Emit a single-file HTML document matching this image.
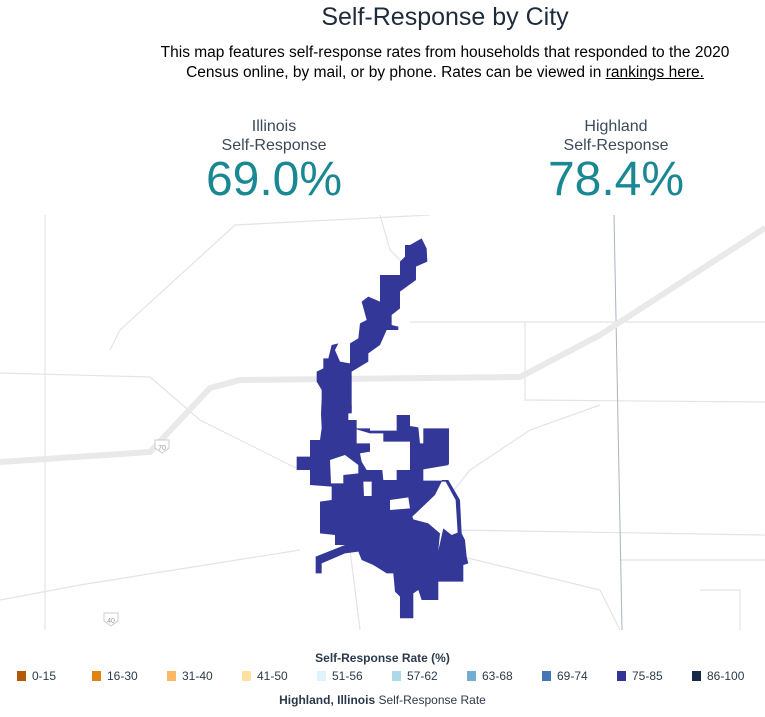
<!DOCTYPE html>
<html><head><meta charset="utf-8"><style>
body{margin:0;width:765px;height:717px;background:#fff;font-family:"Liberation Sans",Arial,sans-serif;position:relative;overflow:hidden;color:#1d2b3a}
.t{position:absolute;text-align:center}
</style></head><body>
<div class="t" style="left:130px;width:630px;top:3px;font-size:25px;color:#1d2b3a">Self-Response by City</div>
<div class="t" style="left:130px;width:630px;top:43px;font-size:15.5px;line-height:20px;color:#000">This map features self-response rates from households that responded to the 2020<br>Census online, by mail, or by phone. Rates can be viewed in <u>rankings here.</u></div>
<div class="t" style="left:174px;width:200px;top:117px;font-size:16px;line-height:19px;color:#3b4a5a">Illinois<br>Self-Response</div>
<div class="t" style="left:174px;width:200px;top:152px;font-size:48px;color:#1a8893">69.0%</div>
<div class="t" style="left:516px;width:200px;top:117px;font-size:16px;line-height:19px;color:#3b4a5a">Highland<br>Self-Response</div>
<div class="t" style="left:516px;width:200px;top:152px;font-size:48px;color:#1a8893">78.4%</div>
<svg style="position:absolute;left:0;top:215px" width="765" height="415" viewBox="0 215 765 415">
<g fill="none" stroke="#e4e4e6" stroke-width="1.2">
<path d="M45 215 L45 630"/><path d="M0 373 L150 377 L200 420 L300 470"/><path d="M110 350 L120 330 L235 225 L430 215"/>
<path d="M410 322 L765 322"/><path d="M525 322 L525 400 L765 402"/><path d="M380 215 L390 250 L410 270"/>
<path d="M0 600 L80 585 L300 550"/><path d="M455 530 L765 535"/><path d="M455 555 L600 590 L620 630"/>
<path d="M700 590 L740 590 L740 630"/><path d="M350 550 L360 630"/><path d="M620 560 L765 560"/>
<path d="M430 520 L470 470 L530 430 L600 405"/>
</g>
<path d="M614 215 L622 630" stroke="#aab4c0" stroke-width="1" fill="none"/>
<path d="M0 462 L150 452 L210 388 L240 380 L520 377 L600 335 L765 228" stroke="#e9e9ea" stroke-width="6" fill="none"/>
<g fill="#fff" stroke="#ccc" stroke-width="1"><path d="M155 440 h14 v8 l-7 5 l-7 -5z"/><path d="M104 613 h14 v8 l-7 5 l-7 -5z"/></g>
<text x="162" y="450" font-size="7" fill="#999" text-anchor="middle">70</text>
<text x="111" y="623" font-size="7" fill="#999" text-anchor="middle">40</text>
<g transform="translate(290,230) scale(0.3333)">
<path fill="#333797" d="M395 25 L410 55 L412 95 L378 110 L378 150 L330 185 L330 235 L305 255 L305 285 L325 290 L325 300 L290 300 L270 345 L235 370 L235 395 L185 425 L185 550 L95 550 L95 480 L80 455 L80 425 L100 415 L100 385 L115 385 L125 345 L145 340 L135 360 L150 395 L180 400 L180 340 L205 325 L210 280 L230 270 L215 215 L235 200 L270 215 L270 135 L330 135 L330 95 L345 80 L345 45 L360 45 Z"/>
</g>
<g transform="translate(295,400) scale(0.3333)">
<path fill="#333797" d="M80 0 L150 0 L150 15 L170 15 L170 35 L160 40 L160 60 L185 60 L185 85 L225 85 L225 92 L305 92 L305 45 L345 45 L345 78 L370 82 L375 130 L385 130 L385 85 L462 85 L462 190 L440 240 L460 240 L495 300 L500 400 L510 420 L515 470 L520 490 L505 495 L505 545 L430 545 L430 600 L380 600 L370 570 L355 580 L355 655 L315 655 L315 590 L300 575 L295 520 L275 520 L235 495 L200 480 L190 455 L150 460 L80 490 L80 520 L62 520 L62 470 L150 435 L120 435 L120 405 L75 400 L75 305 L110 300 L110 260 L45 255 L45 210 L5 210 L5 170 L45 170 L45 120 L75 120 L80 85 L78 40 Z"/>
<g fill="#fff">
<path d="M185 88 L225 100 L265 100 L265 125 L345 125 L345 210 L305 210 L305 240 L265 240 L262 210 L215 210 L200 185 L195 160 L225 155 L225 130 L185 130 Z"/>
<path d="M105 180 L150 165 L190 195 L190 220 L145 225 L145 250 L108 250 Z"/>
<path d="M205 245 L230 245 L230 288 L207 288 Z"/>
<path d="M285 300 L340 292 L345 325 L285 330 Z"/>
<path d="M352 350 L420 285 L440 245 L452 245 L482 300 L488 398 L470 405 L445 385 L430 452 L435 400 L400 370 L355 358 Z"/>
<path d="M385 208 L462 195 L440 242 L385 242 Z"/>
</g></g>
</svg>
<div class="t" style="left:0;width:765px;top:651px;font-size:12px;font-weight:bold;color:#2b3a4a">Self-Response Rate (%)</div>
<div style="position:absolute;left:0;top:669px;width:765px;font-size:12px;color:#2b3a4a">
<span style="position:absolute;left:17px"><i style="display:inline-block;width:9px;height:10px;background:#b35806;vertical-align:-1px;margin-right:6px"></i>0-15</span>
<span style="position:absolute;left:92px"><i style="display:inline-block;width:9px;height:10px;background:#e08214;vertical-align:-1px;margin-right:6px"></i>16-30</span>
<span style="position:absolute;left:167px"><i style="display:inline-block;width:9px;height:10px;background:#fdb863;vertical-align:-1px;margin-right:6px"></i>31-40</span>
<span style="position:absolute;left:242px"><i style="display:inline-block;width:9px;height:10px;background:#fee0a0;vertical-align:-1px;margin-right:6px"></i>41-50</span>
<span style="position:absolute;left:317px"><i style="display:inline-block;width:9px;height:10px;background:#e0f3f8;vertical-align:-1px;margin-right:6px"></i>51-56</span>
<span style="position:absolute;left:392px"><i style="display:inline-block;width:9px;height:10px;background:#abd9e9;vertical-align:-1px;margin-right:6px"></i>57-62</span>
<span style="position:absolute;left:467px"><i style="display:inline-block;width:9px;height:10px;background:#74add1;vertical-align:-1px;margin-right:6px"></i>63-68</span>
<span style="position:absolute;left:542px"><i style="display:inline-block;width:9px;height:10px;background:#4575b4;vertical-align:-1px;margin-right:6px"></i>69-74</span>
<span style="position:absolute;left:617px"><i style="display:inline-block;width:9px;height:10px;background:#313695;vertical-align:-1px;margin-right:6px"></i>75-85</span>
<span style="position:absolute;left:692px"><i style="display:inline-block;width:9px;height:10px;background:#152a4a;vertical-align:-1px;margin-right:6px"></i>86-100</span>
</div>
<div class="t" style="left:0;width:765px;top:693px;font-size:12px;color:#2b3a4a"><b>Highland, Illinois</b> Self-Response Rate</div>
</body></html>
